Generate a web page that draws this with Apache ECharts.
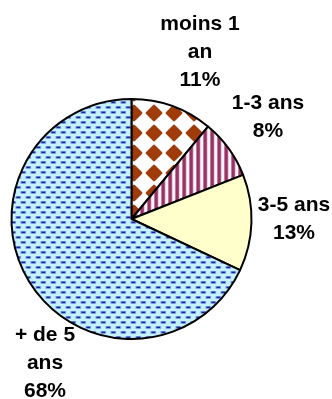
<!DOCTYPE html>
<html>
<head>
<meta charset="utf-8">
<script src="https://cdn.jsdelivr.net/npm/echarts@6/dist/echarts.min.js"></script>
<style>
html,body{margin:0;padding:0;background:#fff;}
#c{width:332px;height:399px;}
</style>
</head>
<body>
<div id="c"></div>
<script>
// Data
const categories = ['moins 1\nan', '1-3 ans', '3-5 ans', '+ de 5\nans'];
const values = [11, 8, 13, 68];

// Label anchor positions (layout style only)
const labelPos = [[200, 52], [268, 117], [294, 219], [45, 363]];

function makeCanvas(w, h) {
  const c = document.createElement('canvas');
  c.width = w; c.height = h;
  return c;
}
function diamondPattern() {
  const w = 20, h = 20;
  const c = makeCanvas(w, h), g = c.getContext('2d');
  g.fillStyle = '#ffffff'; g.fillRect(0, 0, w, h);
  g.fillStyle = '#a03c0a'; g.strokeStyle = '#a03c0a';
  g.lineJoin = 'round'; g.lineWidth = 3;
  for (let j = -1; j <= 1; j++) {
    for (let i = -1; i <= 1; i++) {
      const x = 14 + 20 * i, y = 13 + 20 * j;
      const r = 6.8;
      g.beginPath();
      g.moveTo(x, y - r); g.lineTo(x + r, y); g.lineTo(x, y + r); g.lineTo(x - r, y);
      g.closePath(); g.fill(); g.stroke();
    }
  }
  return c;
}
function stripePattern() {
  const w = 7, h = 7;
  const c = makeCanvas(w, h), g = c.getContext('2d');
  g.fillStyle = '#fdf6fa'; g.fillRect(0, 0, w, h);
  g.fillStyle = '#cf9bb6'; g.fillRect(0, 0, 4.4, h);
  g.fillStyle = '#993366'; g.fillRect(0.7, 0, 3, h);
  return c;
}
function dashPattern() {
  const w = 10, h = 10;
  const c = makeCanvas(w, h), g = c.getContext('2d');
  g.fillStyle = '#c4f3ff'; g.fillRect(0, 0, w, h);
  const dashes = [[0.5,1],[5.5,6],[-4.5,6]];
  dashes.forEach(d => {
    g.fillStyle = '#7f9cf0'; g.fillRect(d[0], d[1], 5.6, 2.8);
    g.fillStyle = '#17258f'; g.fillRect(d[0]+1, d[1]+0.7, 3.6, 1.4);
  });
  return c;
}
const fills = [
  { image: diamondPattern(), repeat: 'repeat' },
  { image: stripePattern(), repeat: 'repeat' },
  '#ffffcc',
  { image: dashPattern(), repeat: 'repeat' }
];

const chart = echarts.init(document.getElementById('c'), null, { renderer: 'canvas' });
chart.setOption({
  backgroundColor: '#ffffff',
  animation: false,
  series: [{
    type: 'pie',
    center: [131.5, 219],
    radius: 120,
    startAngle: 90,
    clockwise: true,
    avoidLabelOverlap: false,
    silent: true,
    itemStyle: { borderColor: '#000000', borderWidth: 2 },
    label: {
      show: true,
      position: 'outside',
      formatter: p => p.name + '\n' + Math.round(p.percent) + '%',
      fontFamily: 'Liberation Sans, Arial, sans-serif',
      fontWeight: 'bold',
      fontSize: 21,
      lineHeight: 28,
      color: '#000000',
      align: 'center'
    },
    labelLine: { show: false },
    labelLayout: function (params) {
      const p = labelPos[params.dataIndex];
      return { x: p[0], y: p[1], align: 'center', verticalAlign: 'middle' };
    },
    data: categories.map((n, i) => ({ name: n, value: values[i], itemStyle: { color: fills[i] } }))
  }]
});
</script>
</body>
</html>
